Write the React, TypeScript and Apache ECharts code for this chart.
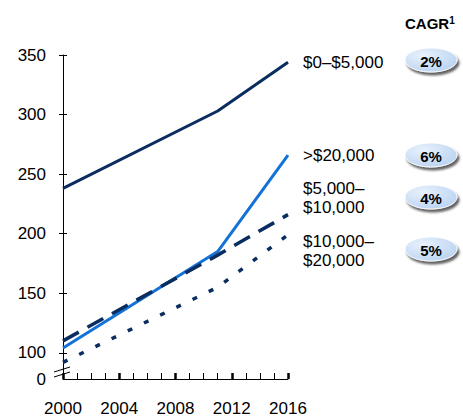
import React, { useEffect, useRef } from "react";
import * as echarts from "echarts";

const years = [2000, 2011, 2016];
const seriesNames = ["$0–$5,000", ">$20,000", "$5,000–$10,000", "$10,000–$20,000"];
const s0to5k = [238, 303, 344];
const sOver20k = [104, 185, 266];
const s5to10k = [110, 182, 216];
const s10to20k = [92, 155, 199];
const cagr = ["2%", "6%", "4%", "5%"];
const seriesLabels = ["$0–$5,000", ">$20,000", "$5,000–\n$10,000", "$10,000–\n$20,000"];
const yTicks = [100, 150, 200, 250, 300, 350];
const yBreakBase = 78; // shown as "0" below the axis break
const xTicks = [2000, 2004, 2008, 2012, 2016];

const NAVY = "#0a2d5f";
const BLUE = "#1272d8";
const FONT = "'Liberation Sans', Arial, sans-serif";

export default function App() {
  const ref = useRef<HTMLDivElement>(null);
  useEffect(() => {
    const chart = echarts.init(ref.current!, null, { renderer: "svg" });
    const mk = (vals: number[]) => years.map((y, i) => [y, vals[i]]);
    const labelY = [62, 155, 198, 251];
    const pillY = [60, 155, 197, 249];
    const graphics: any[] = [];
    graphics.push({
      type: "text",
      x: 405,
      y: 23,
      style: {
        text: "{m|CAGR}{s|1}",
        verticalAlign: "middle",
        rich: {
          m: { font: `bold 15px ${FONT}`, fill: "#000" },
          s: { font: `bold 10px ${FONT}`, fill: "#000", verticalAlign: "top", padding: [0, 0, 6, 0] },
        },
      },
    });
    seriesLabels.forEach((t, i) => {
      graphics.push({
        type: "text",
        x: 303,
        y: labelY[i],
        style: {
          text: t,
          font: `17px ${FONT}`,
          fill: "#000",
          verticalAlign: "middle",
          lineHeight: 19,
        },
      });
    });
    cagr.forEach((t, i) => {
      graphics.push({
        type: "ellipse",
        shape: { cx: 431, cy: pillY[i], rx: 26, ry: 12 },
        style: {
          fill: new echarts.graphic.RadialGradient(0.35, 0.3, 0.8, [
            { offset: 0, color: "#e8f1fc" },
            { offset: 1, color: "#b8d2f1" },
          ]),
          stroke: "#ffffff",
          lineWidth: 1,
          shadowColor: "rgba(70,70,70,0.85)",
          shadowOffsetX: 2,
          shadowOffsetY: 3,
          shadowBlur: 2,
        },
      });
      graphics.push({
        type: "text",
        x: 431,
        y: pillY[i] + 1,
        style: {
          text: t,
          font: `bold 15px ${FONT}`,
          fill: "#000",
          align: "center",
          verticalAlign: "middle",
        },
      });
    });
    // axis break marks
    graphics.push({
      type: "line",
      shape: { x1: 54, y1: 372, x2: 70, y2: 367 },
      style: { stroke: "#000", lineWidth: 1 },
    });
    graphics.push({
      type: "line",
      shape: { x1: 54, y1: 377, x2: 70, y2: 372 },
      style: { stroke: "#000", lineWidth: 1 },
    });

    const yCommon = {
      type: "value",
      min: yBreakBase,
      max: 350,
      splitLine: { show: false },
    };
    chart.setOption({
      animation: false,
      grid: { left: 63, right: 175, top: 55, bottom: 40, containLabel: false },
      xAxis: {
        type: "value",
        min: 2000,
        max: 2016,
        interval: 4,
        axisLine: { show: true, lineStyle: { color: "#000", width: 1 } },
        axisTick: { show: true, inside: true, length: 6, lineStyle: { color: "#000", width: 2.5 } },
        minorTick: { show: true, splitNumber: 4, length: 6, lineStyle: { color: "#000", width: 1 } },
        splitLine: { show: false },
        axisLabel: {
          customValues: xTicks,
          formatter: (v: number) => String(v),
          color: "#000",
          fontSize: 17,
          fontFamily: FONT,
          margin: 21,
        },
      },
      yAxis: [
        {
          ...yCommon,
          axisLine: { show: true, lineStyle: { color: "#000", width: 1 } },
          axisTick: { show: true, inside: false, length: 4, customValues: yTicks, lineStyle: { color: "#000" } },
          axisLabel: {
            customValues: [yBreakBase, ...yTicks],
            formatter: (v: number) => (v === yBreakBase ? "0" : String(v)),
            color: "#000",
            fontSize: 17,
            fontFamily: FONT,
            margin: 17,
          },
        },
        {
          ...yCommon,
          position: "left",
          axisLine: { show: false },
          axisTick: { show: true, inside: true, length: 4, customValues: yTicks, lineStyle: { color: "#000" } },
          axisLabel: { show: false },
        },
      ],
      series: [
        {
          name: seriesNames[0],
          type: "line",
          data: mk(s0to5k),
          symbol: "none",
          lineStyle: { color: NAVY, width: 3 },
        },
        {
          name: seriesNames[1],
          type: "line",
          data: mk(sOver20k),
          symbol: "none",
          lineStyle: { color: BLUE, width: 3 },
        },
        {
          name: seriesNames[2],
          type: "line",
          data: mk(s5to10k),
          symbol: "none",
          lineStyle: { color: NAVY, width: 3.5, type: [18, 10] },
        },
        {
          name: seriesNames[3],
          type: "line",
          data: mk(s10to20k),
          symbol: "none",
          lineStyle: { color: NAVY, width: 3.5, type: [5, 13] },
        },
      ],
      graphic: graphics,
    });
    return () => chart.dispose();
  }, []);
  return <div ref={ref} style={{ width: 463, height: 419, position: "absolute", left: 0, top: 0 }} />;
}
